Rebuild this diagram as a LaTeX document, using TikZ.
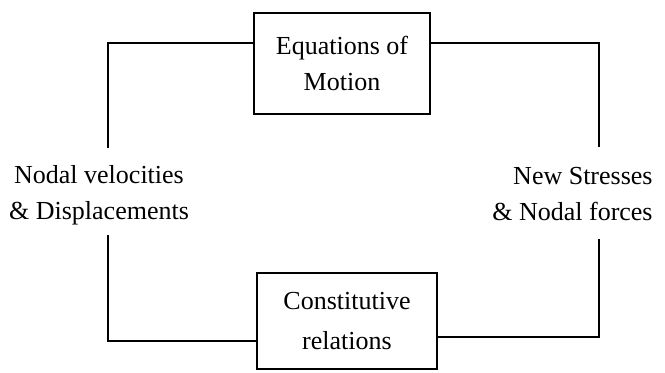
\documentclass[tikz,border=0pt]{standalone}
\usepackage{fontspec}
\setmainfont{Liberation Serif}
\usetikzlibrary{calc,positioning}

\tikzset{
    txt/.style={font=\fontsize{13}{18}\selectfont, align=center, inner sep=0pt},
    blockbox/.style={txt, draw, line width=1.1pt, minimum width=#1},
    link/.style={line width=1.1pt}
}

\begin{document}
\begin{tikzpicture}[x=0.5pt,y=-0.5pt]
    \useasboundingbox (0,0) rectangle (665,372);

    % Blocks
    \node[blockbox=88pt, minimum height=50.5pt] (eqm) at (342,63.5) {Equations of\\Motion};
    \node[blockbox=90pt, minimum height=48pt] (crel) at (347,321) {Constitutive\\[2pt]relations};

    % Labels
    \node[txt] (vel) at (99,195) {Nodal velocities\\\& Displacements};
    \node[txt, align=right, anchor=east] (str) at (653,194) {New Stresses\\\& Nodal forces};

    % Loose ends of the connectors
    \coordinate (lt) at (108,148);
    \coordinate (lb) at (108,235);
    \coordinate (rt) at (599,147);
    \coordinate (rb) at (599,239);

    % Connectors
    \draw[link] ($(eqm.north west)!0.3!(eqm.south west)$) -| (lt);
    \draw[link] ($(eqm.north east)!0.3!(eqm.south east)$) -| (rt);
    \draw[link] (lb) |- ($(crel.north west)!0.7!(crel.south west)$);
    \draw[link] (rb) |- ($(crel.north east)!0.66!(crel.south east)$);
\end{tikzpicture}
\end{document}
